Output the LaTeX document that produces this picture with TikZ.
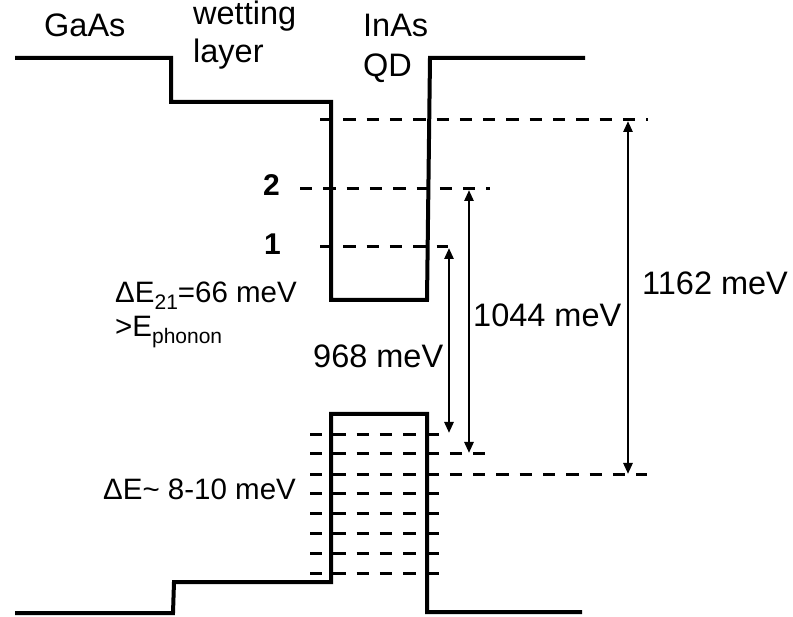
\documentclass[tikz,border=0pt]{standalone}
\usepackage{fontspec}
\setmainfont{Liberation Sans}
\usetikzlibrary{arrows.meta}
\begin{document}
\begin{tikzpicture}[x=1pt,y=-1pt,
  band/.style={line width=4pt, line join=miter},
  level/.style={line width=3pt, dash pattern=on 12.3pt off 11pt},
  gaparrow/.style={line width=2.6pt, dash pattern=on 1.5pt off 0.5pt,
    {Triangle[width=9pt,length=11pt]}-{Triangle[width=9pt,length=11pt]}},
  lbl/.style={inner sep=0pt, anchor=base west, font=\fontsize{32.5}{38}\selectfont},
  smalllbl/.style={lbl, font=\fontsize{29.5}{35}\selectfont},
  numlbl/.style={lbl, font=\fontsize{30}{35}\selectfont\bfseries}]
\useasboundingbox (0,0) rectangle (793,617);
% conduction band
\draw[band] (15,58) -- (171,58) -- (171,102) -- (331,102) -- (331,300) -- (427,300) -- (430,58) -- (585,58);
% valence band
\draw[band] (15,613) -- (173,613) -- (174,582) -- (331,582) -- (331,414) -- (427,414) -- (427,612) -- (582,612);
% conduction levels
\draw[level] (320,120) -- (648,120);
\draw[level] (300,189) -- (490,189);
\draw[level] (320,247) -- (448,247);
% valence levels
\foreach \yy/\xe in {435/439, 454/486, 475/647, 494/439, 514/439, 533/439, 553/439, 573/439}
  \draw[level] (310,\yy) -- (\xe,\yy);
% arrows
\coordinate (a1t) at (449,248);
\coordinate (a1b) at (449,433);
\coordinate (a2t) at (469,190);
\coordinate (a2b) at (469,453);
\coordinate (a3t) at (628,121);
\coordinate (a3b) at (628,474);
\draw[gaparrow] (a1t) -- (a1b);
\draw[gaparrow] (a2t) -- (a2b);
\draw[gaparrow] (a3t) -- (a3b);
% labels
\node[lbl] (gaas) at (44,37) {GaAs};
\node[lbl] (wet) at (193,25) {wetting};
\node[lbl] (lay) at (193,63) {layer};
\node[lbl] (inas) at (363,37) {InAs};
\node[lbl] (qd) at (363,77) {QD};
\node[numlbl] (l2) at (263,196) {2};
\node[numlbl] (l1) at (264,255) {1};
\node[smalllbl] (de21) at (115,303) {ΔE\raisebox{-7pt}{\fontsize{21}{21}\selectfont 21}=66 meV};
\node[smalllbl] (eph) at (115,337) {>E\raisebox{-7pt}{\fontsize{21}{21}\selectfont phonon}};
\node[lbl] (t968) at (313,368) {968 meV};
\node[lbl] (t1044) at (473,327) {1044 meV};
\node[lbl] (t1162) at (642,295) {1162 meV};
\node[smalllbl] (dE) at (103,500) {ΔE\textasciitilde{} 8-10 meV};
\end{tikzpicture}
\end{document}
